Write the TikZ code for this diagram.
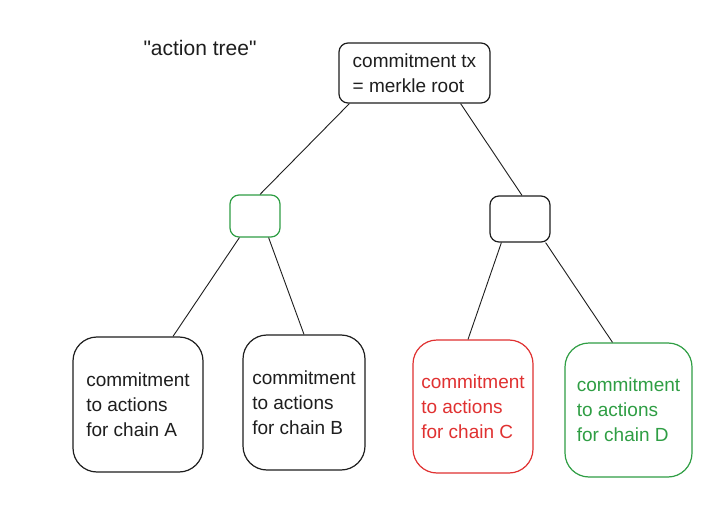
\documentclass[tikz,border=0pt]{standalone}
\usepackage{fontspec}
\setmainfont{Liberation Sans}
\newfontfamily\plainquotes{Liberation Sans}[Ligatures=TeXOff]
\definecolor{ink}{HTML}{1E1E1E}
\definecolor{exgreen}{HTML}{2F9E44}
\definecolor{exred}{HTML}{E03131}
\begin{document}
\begin{tikzpicture}[x=1pt,y=-1pt,
  box/.style={draw=ink, line width=1.2pt, rectangle, inner sep=0pt, align=left,
    font=\fontsize{19}{25}\selectfont, text=ink},
  leafbox/.style={box, rounded corners=24pt},
  hashbox/.style={box, rounded corners=9pt},
  link/.style={draw=ink, line width=0.9pt}]
\useasboundingbox (0,0) rectangle (715,508);
\fill[white] (0,0) rectangle (715,508);
\node[text=ink, font=\plainquotes\fontsize{21}{25}\selectfont] (title) at (200,48) {"action tree"};
\node[hashbox, minimum width=151pt, minimum height=60pt] (root) at (414.5,73) {commitment tx\\= merkle root};
\node[hashbox, draw=exgreen, minimum width=50pt, minimum height=42pt] (g) at (255,216) {};
\node[hashbox, minimum width=60pt, minimum height=46pt] (k) at (520,219) {};
\node[leafbox, minimum width=130pt, minimum height=135pt] (a) at (138,404.5) {commitment\\to actions\\for chain A};
\node[leafbox, minimum width=122pt, minimum height=135pt] (b) at (304,402.5) {commitment\\to actions\\for chain B};
\node[leafbox, draw=exred, text=exred, minimum width=120pt, minimum height=133pt] (c) at (473,406.5) {commitment\\to actions\\for chain C};
\node[leafbox, draw=exgreen, text=exgreen, minimum width=127pt, minimum height=134pt] (d) at (628.5,410) {commitment\\to actions\\for chain D};
\draw[link] ([xshift=11pt]root.south west) -- ([xshift=5pt]g.north);
\draw[link] ([xshift=-30pt]root.south east) -- ([xshift=2pt]k.north);
\draw[link] ([xshift=10pt]g.south west) -- ([xshift=35pt]a.north);
\draw[link] ([xshift=-12pt]g.south east) -- (b.north);
\draw[link] ([xshift=12pt]k.south west) -- ([xshift=-5pt]c.north);
\draw[link] ([xshift=-5pt]k.south east) -- ([xshift=-16pt]d.north);
\end{tikzpicture}
\end{document}
